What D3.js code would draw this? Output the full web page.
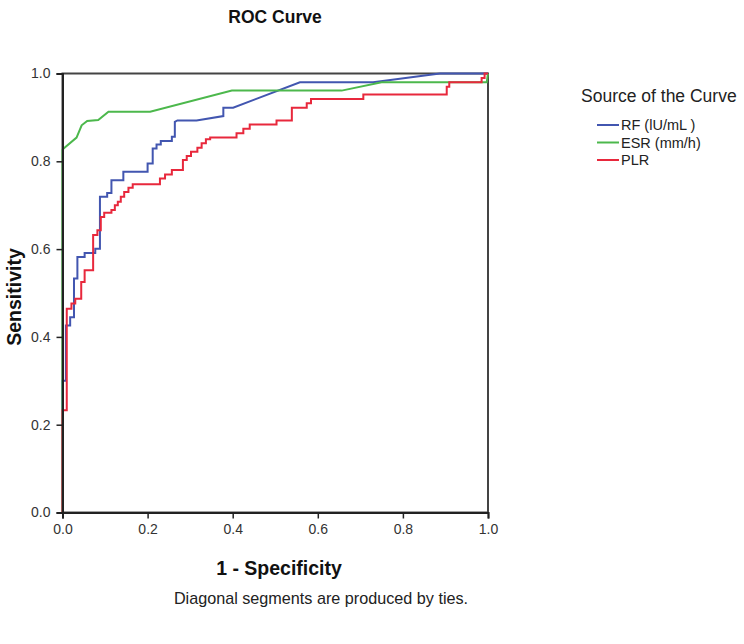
<!DOCTYPE html>
<html>
<head>
<meta charset="utf-8">
<script src="https://cdn.jsdelivr.net/npm/d3@7"></script>
<style>
  html, body { margin: 0; padding: 0; background: #fff; }
  svg { display: block; font-family: Arial, "Liberation Sans", sans-serif; }
</style>
</head>
<body>
<svg id="chart" width="744" height="644"></svg>
<script>
// ---- data ----
const seriesNames = ["RF (lU/mL )", "ESR (mm/h)", "PLR"];
const seriesColors = ["#4256b0", "#4cb84c", "#e8283c"];

const rfX = [0,0,0.008,0.008,0.018,0.018,0.027,0.027,0.035,0.035,0.052,0.052,0.077,0.077,0.088,0.088,0.105,0.105,0.115,0.115,0.143,0.143,0.2,0.2,0.212,0.212,0.221,0.221,0.231,0.231,0.257,0.257,0.264,0.264,0.27,0.315,0.378,0.378,0.401,0.558,0.73,0.887,1];
const rfY = [0,0.30,0.30,0.426,0.426,0.445,0.445,0.533,0.533,0.582,0.582,0.591,0.591,0.601,0.601,0.719,0.719,0.728,0.728,0.757,0.757,0.776,0.776,0.795,0.795,0.829,0.829,0.838,0.838,0.846,0.846,0.856,0.856,0.89,0.893,0.893,0.903,0.922,0.922,0.98,0.98,1,1];

const esrX = [0,0,0.033,0.045,0.058,0.084,0.108,0.206,0.398,0.656,0.75,0.997,1];
const esrY = [0,0.827,0.854,0.882,0.892,0.894,0.913,0.913,0.961,0.961,0.98,0.98,1];

const plrX = [0,0,0.01,0.01,0.021,0.021,0.03,0.03,0.044,0.044,0.052,0.052,0.072,0.072,0.082,0.082,0.09,0.09,0.098,0.098,0.115,0.115,0.123,0.123,0.13,0.13,0.137,0.137,0.145,0.145,0.155,0.155,0.165,0.165,0.229,0.229,0.241,0.241,0.257,0.257,0.283,0.283,0.292,0.292,0.302,0.302,0.317,0.317,0.327,0.327,0.337,0.337,0.347,0.347,0.409,0.409,0.425,0.425,0.44,0.44,0.503,0.503,0.539,0.539,0.574,0.574,0.584,0.584,0.707,0.707,0.903,0.903,0.909,0.909,0.985,0.985,0.992,0.992,1];
const plrY = [0,0.233,0.233,0.464,0.464,0.476,0.476,0.487,0.487,0.525,0.525,0.552,0.552,0.632,0.632,0.643,0.643,0.673,0.673,0.683,0.683,0.689,0.689,0.70,0.70,0.708,0.708,0.719,0.719,0.730,0.730,0.740,0.740,0.748,0.748,0.761,0.761,0.770,0.770,0.78,0.78,0.803,0.803,0.812,0.812,0.822,0.822,0.831,0.831,0.841,0.841,0.85,0.85,0.854,0.854,0.864,0.864,0.874,0.874,0.884,0.884,0.893,0.893,0.922,0.922,0.932,0.932,0.942,0.942,0.952,0.952,0.97,0.97,0.98,0.98,0.99,0.99,1,1];

const tickValues = [0, 0.2, 0.4, 0.6, 0.8, 1.0];

// ---- layout ----
const svg = d3.select("#chart");
const pL = 62.5, pR = 488, pT = 73.5, pB = 512.5;
const x = d3.scaleLinear().domain([0, 1]).range([pL, pR]);
const y = d3.scaleLinear().domain([0, 1]).range([pB, pT]);

// frame (top and right)
svg.append("rect").attr("x", pL).attr("y", pT)
  .attr("width", pR - pL).attr("height", pB - pT)
  .attr("fill", "none").attr("stroke", "#444").attr("stroke-width", 2);

// series
const series = [[rfX, rfY], [esrX, esrY], [plrX, plrY]];
const line = d3.line().x(d => x(d[0])).y(d => y(d[1]));
series.forEach((s, i) => {
  const pts = s[0].map((v, k) => [v, s[1][k]]);
  svg.append("path").datum(pts).attr("d", line)
    .attr("fill", "none").attr("stroke", seriesColors[i])
    .attr("stroke-width", 2).attr("stroke-linejoin", "miter");
});

// axes
const xAxis = svg.append("g").attr("transform", `translate(0,${pB})`)
  .call(d3.axisBottom(x).tickValues(tickValues).tickFormat(d3.format(".1f")).tickSize(6).tickPadding(6));
const yAxis = svg.append("g").attr("transform", `translate(${pL},0)`)
  .call(d3.axisLeft(y).tickValues(tickValues).tickFormat(d3.format(".1f")).tickSize(6).tickPadding(6));
[xAxis, yAxis].forEach(g => {
  g.select(".domain").attr("stroke", "#222").attr("stroke-width", 2);
  g.selectAll(".tick line").attr("stroke", "#222").attr("stroke-width", 1.5);
  g.selectAll(".tick text").attr("fill", "#333").style("font-size", "14px")
    .style("font-family", "Arial, 'Liberation Sans', sans-serif");
});

// titles
svg.append("text").attr("x", 275).attr("y", 23).attr("text-anchor", "middle")
  .style("font-size", "17.5px").style("font-weight", "bold").attr("fill", "#111")
  .text("ROC Curve");
svg.append("text").attr("x", 279).attr("y", 575).attr("text-anchor", "middle")
  .style("font-size", "19.5px").style("font-weight", "bold").attr("fill", "#111")
  .text("1 - Specificity");
svg.append("text").attr("transform", "translate(21,297) rotate(-90)").attr("text-anchor", "middle")
  .style("font-size", "19.5px").style("font-weight", "bold").attr("fill", "#111")
  .text("Sensitivity");
svg.append("text").attr("x", 321).attr("y", 604).attr("text-anchor", "middle")
  .style("font-size", "16.2px").attr("fill", "#222")
  .text("Diagonal segments are produced by ties.");

// legend
svg.append("text").attr("x", 581).attr("y", 102)
  .style("font-size", "17.5px").attr("fill", "#222")
  .text("Source of the Curve");
const lg = svg.append("g");
seriesNames.forEach((n, i) => {
  const yy = 125 + i * 17.5;
  lg.append("line").attr("x1", 597).attr("x2", 619).attr("y1", yy).attr("y2", yy)
    .attr("stroke", seriesColors[i]).attr("stroke-width", 2);
  lg.append("text").attr("x", 621).attr("y", yy + 5)
    .style("font-size", "14.5px").attr("fill", "#222").text(n);
});
</script>
</body>
</html>
